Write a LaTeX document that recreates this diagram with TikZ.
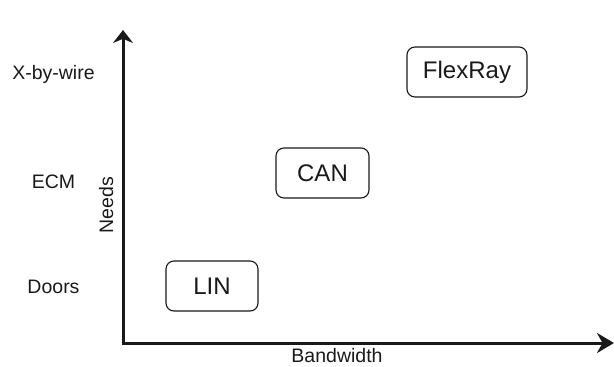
\documentclass[tikz,border=0pt]{standalone}
\usepackage{fontspec}
\setmainfont{Liberation Sans}
\usetikzlibrary{arrows.meta, positioning}

\begin{document}
\begin{tikzpicture}[
		x=1pt, y=-1pt,
		>=Stealth,
		axis/.style={line width=3pt, color=black!90},
		bus/.style={rectangle, draw=black!90, line width=1.1pt, rounded corners=8pt, inner sep=0pt, font=\fontsize{24}{28}\selectfont, text=black!90},
		level/.style={anchor=base, font=\fontsize{19.5}{23}\selectfont, text=black!90}
		]
		
		\useasboundingbox (0,0) rectangle (614,367);
		
		% Axes
		\coordinate (origin) at (123,343);
		\coordinate (ytop) at (123,30);
		\coordinate (xend) at (614,343);
		\draw[axis, -{Stealth[length=13pt, width=20pt]}] ([yshift=-1.5pt]origin) -- (ytop);
		\draw[axis, -{Stealth[length=17pt, width=20pt]}] ([xshift=-1.5pt]origin) -- (xend);
		
		% Axis labels
		\node[level, inner ysep=0pt] (bandwidth) at (337,362) {Bandwidth};
		\node[level, rotate=90] (needs) at (113,205) {Needs};
		
		% Needs levels
		\node[level] (xbywire) at (53.5,79) {X-by-wire};
		\node[level] (ecm) at (53.5,188) {ECM};
		\node[level] (doors) at (53.5,293) {Doors};
		
		% Bus systems
		\node[bus, minimum width=92pt, minimum height=50pt] (lin) at (212,286) {LIN};
		\node[bus, minimum width=93pt, minimum height=50pt] (can) at (322.5,173) {CAN};
		\node[bus, minimum width=120pt, minimum height=50pt] (flexray) at (467,72) {FlexRay};
		
	\end{tikzpicture}
\end{document}
